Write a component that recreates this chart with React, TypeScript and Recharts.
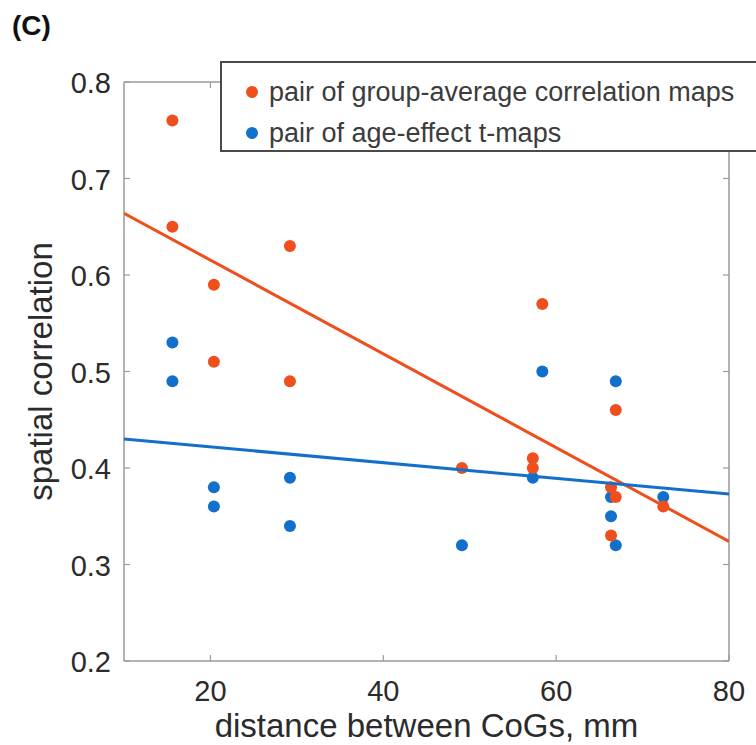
import { ScatterChart, Scatter, XAxis, YAxis } from 'recharts';

const orangeX = [15.6, 15.6, 20.4, 20.4, 29.2, 29.2, 49.1, 57.3, 57.3, 58.4, 66.9, 66.35, 66.9, 66.35, 72.4];
const orangeY = [0.76, 0.65, 0.59, 0.51, 0.63, 0.49, 0.4, 0.41, 0.4, 0.57, 0.46, 0.38, 0.37, 0.33, 0.36];
const blueX = [15.6, 15.6, 20.4, 20.4, 29.2, 29.2, 49.1, 57.3, 58.4, 66.9, 66.35, 66.35, 66.9, 72.4];
const blueY = [0.53, 0.49, 0.38, 0.36, 0.39, 0.34, 0.32, 0.39, 0.5, 0.49, 0.37, 0.35, 0.32, 0.37];

// fitted lines, end points read at x = 10 and x = 80
const fitX = [10, 80];
const orangeFitY = [0.664, 0.324];
const blueFitY = [0.43, 0.373];

const xTicks = [20, 40, 60, 80];
const yTicks = [0.2, 0.3, 0.4, 0.5, 0.6, 0.7, 0.8];
const seriesNames = ['pair of group-average correlation maps', 'pair of age-effect t-maps'];

const ORANGE = '#EE4F1D';
const BLUE = '#1270CC';
const AXIS = '#9a9a9a';
const TEXT = '#2b2b2b';
const FONT = '"Liberation Sans", Arial, sans-serif';

const zip = (xs: number[], ys: number[]) => xs.map((x, i) => ({ x, y: ys[i] }));
const orangeData = zip(orangeX, orangeY);
const blueData = zip(blueX, blueY);
const orangeFit = zip(fitX, orangeFitY);
const blueFit = zip(fitX, blueFitY);

const BottomTick = ({ x, y, payload }: any) => (
  <g>
    <line x1={x} y1={y} x2={x} y2={y - 6} stroke={AXIS} strokeWidth={1.2} />
    <text x={x} y={y + 30} textAnchor="middle" dominantBaseline="central" fontSize={29} fill={TEXT} fontFamily={FONT}>
      {payload.value}
    </text>
  </g>
);

const LeftTick = ({ x, y, payload }: any) => (
  <g>
    <line x1={x} y1={y} x2={x + 6} y2={y} stroke={AXIS} strokeWidth={1.2} />
    <text x={x - 13} y={y + 1} textAnchor="end" dominantBaseline="central" fontSize={29} fill={TEXT} fontFamily={FONT}>
      {Number(payload.value).toFixed(1)}
    </text>
  </g>
);

const TopTick = ({ x, y }: any) => <line x1={x} y1={y} x2={x} y2={y + 6} stroke={AXIS} strokeWidth={1.2} />;
const RightTick = ({ x, y }: any) => <line x1={x} y1={y} x2={x - 6} y2={y} stroke={AXIS} strokeWidth={1.2} />;

const dot = (color: string) => (p: any) => <circle cx={p.cx} cy={p.cy} r={6} fill={color} />;
const noDot = () => <g />;

export default function App() {
  return (
    <div style={{ position: 'absolute', left: 0, top: 0, width: 756, height: 745, overflow: 'hidden', background: '#fff', fontFamily: FONT }}>
      <div style={{ position: 'absolute', left: 12, top: 10, fontSize: 28, fontWeight: 'bold', color: '#111', fontFamily: FONT }}>(C)</div>
      <ScatterChart width={756} height={745} margin={{ top: 0, right: 0, bottom: 0, left: 0 }}>
        <XAxis
          xAxisId="bottom"
          type="number"
          dataKey="x"
          domain={[10, 80]}
          ticks={xTicks}
          height={84}
          allowDataOverflow
          stroke={AXIS}
          strokeWidth={1.5}
          tickSize={0}
          tickMargin={0}
          tickLine={false}
          tick={BottomTick}
          label={{ value: 'distance between CoGs, mm', position: 'insideBottom', offset: 8, fontSize: 33, fill: TEXT, fontFamily: FONT }}
        />
        <XAxis
          xAxisId="top"
          orientation="top"
          type="number"
          dataKey="x"
          domain={[10, 80]}
          ticks={xTicks}
          height={82}
          allowDataOverflow
          stroke={AXIS}
          strokeWidth={1.5}
          tickSize={0}
          tickMargin={0}
          tickLine={false}
          tick={TopTick}
        />
        <YAxis
          yAxisId="left"
          type="number"
          dataKey="y"
          domain={[0.2, 0.8]}
          ticks={yTicks}
          width={124}
          allowDataOverflow
          stroke={AXIS}
          strokeWidth={1.5}
          tickSize={0}
          tickMargin={0}
          tickLine={false}
          tick={LeftTick}
          label={{ value: 'spatial correlation', angle: -90, position: 'insideLeft', offset: 40, fontSize: 33, fill: TEXT, fontFamily: FONT, style: { textAnchor: 'middle' } }}
        />
        <YAxis
          yAxisId="right"
          orientation="right"
          type="number"
          dataKey="y"
          domain={[0.2, 0.8]}
          ticks={yTicks}
          width={27}
          allowDataOverflow
          stroke={AXIS}
          strokeWidth={1.5}
          tickSize={0}
          tickMargin={0}
          tickLine={false}
          tick={RightTick}
        />
        <Scatter xAxisId="bottom" yAxisId="left" data={blueData} shape={dot(BLUE)} isAnimationActive={false} />
        <Scatter xAxisId="bottom" yAxisId="left" data={orangeData} shape={dot(ORANGE)} isAnimationActive={false} />
        <Scatter xAxisId="bottom" yAxisId="left" data={orangeFit} line={{ stroke: ORANGE, strokeWidth: 3 }} shape={noDot} isAnimationActive={false} />
        <Scatter xAxisId="bottom" yAxisId="left" data={blueFit} line={{ stroke: BLUE, strokeWidth: 3 }} shape={noDot} isAnimationActive={false} />
      </ScatterChart>
      <div
        style={{
          position: 'absolute',
          left: 220,
          top: 61,
          width: 600,
          height: 91,
          border: '2px solid #4a4a4a',
          background: '#fff',
          boxSizing: 'border-box',
        }}
      >
        {seriesNames.map((name, i) => (
          <div key={name} style={{ position: 'absolute', left: 24, top: i === 0 ? 14 : 55, height: 30, display: 'flex', alignItems: 'center', fontSize: 27, color: '#3c3c3c', whiteSpace: 'nowrap' }}>
            <span style={{ display: 'inline-block', width: 12, height: 12, borderRadius: 6, background: i === 0 ? ORANGE : BLUE, marginRight: 11 }} />
            {name}
          </div>
        ))}
      </div>
    </div>
  );
}
